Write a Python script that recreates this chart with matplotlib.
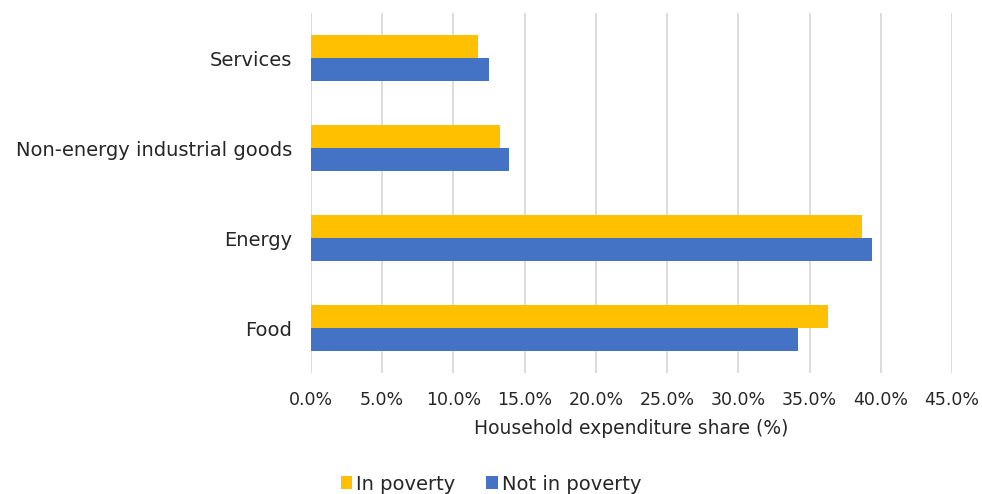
import numpy as np
import matplotlib.pyplot as plt
from matplotlib.ticker import FuncFormatter

categories = ["Services", "Non-energy industrial goods", "Energy", "Food"]
in_poverty = [11.7, 13.3, 38.7, 36.3]
not_in_poverty = [12.5, 13.9, 39.4, 34.2]

plt.rcParams['font.family'] = ['DejaVu Sans']

fig = plt.figure(figsize=(9.82, 4.94), dpi=100)
ax = fig.add_axes([311 / 982, 121 / 494, 641 / 982, 360 / 494])

y = np.arange(len(categories))
h = 0.26
ax.barh(y - h / 2, in_poverty, height=h, color="#FFC000", label="In poverty", zorder=3)
ax.barh(y + h / 2, not_in_poverty, height=h, color="#4472C4", label="Not in poverty", zorder=3)

ax.set_ylim(len(categories) - 0.5, -0.5)
ax.set_yticks(y)
ax.set_yticklabels(categories, fontsize=14, color="#262626")
ax.set_xlim(0, 45)
ax.set_xticks(np.arange(0, 46, 5))
ax.xaxis.set_major_formatter(FuncFormatter(lambda v, p: f"{v:.1f}%"))
ax.tick_params(axis='x', labelsize=12.5, labelcolor="#262626", length=0, pad=13)
ax.tick_params(axis='y', length=0, pad=13.5)
ax.grid(axis='x', color="#D9D9D9", linewidth=1.3, zorder=0)
for s in ax.spines.values():
    s.set_visible(False)

ax.set_xlabel("Household expenditure share (%)", fontsize=13.5, color="#262626", labelpad=7)

fig.legend(loc='center', bbox_to_anchor=(0.5, 1 - 484 / 494), ncol=2, frameon=False,
           fontsize=14, handlelength=0.6, handleheight=0.6, handletextpad=0.2,
           columnspacing=1.6, labelcolor="#262626", borderpad=0)

fig.savefig("out.png", dpi=100)
